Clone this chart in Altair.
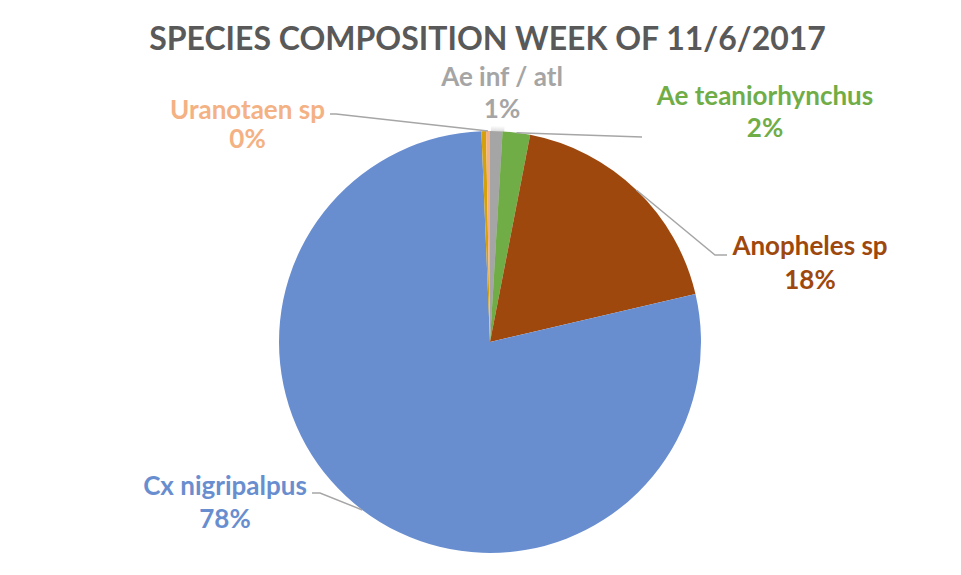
import math
import altair as alt
import pandas as pd

# ---- data ----
species = ["Ae inf / atl", "Ae teaniorhynchus", "Anopheles sp", "Cx nigripalpus", "Other", "Uranotaen sp"]
values = [0.95, 2.1, 18.3, 78.0, 0.35, 0.3]
show_label = [True, True, True, True, False, True]
title_text = "SPECIES COMPOSITION WEEK OF 11/6/2017"

# ---- style / layout ----
slice_colors = ["#A5A5A5", "#70AD47", "#9E480E", "#698ED0", "#D4A00C", "#F4B183"]
W, H = 945, 559
CX, CY, R = 482, 334, 211
FONT = "Lato"
LABEL_SIZE = 26
TITLE_SIZE = 32
LEADER = "#A6A6A6"

# label placement: name centre x, name baseline y, pct baseline y, leader points after the slice anchor
layout = {
    "Uranotaen sp": dict(x=239.5, y=111, y2=140, leader=[(328, 106), (322, 106)]),
    "Ae inf / atl": dict(x=494, y=78, y2=110, leader=[]),
    "Ae teaniorhynchus": dict(x=757, y=97, y2=129, leader=[(634, 129)]),
    "Anopheles sp": dict(x=802, y=247, y2=281, leader=[(707, 247), (719, 247)]),
    "Cx nigripalpus": dict(x=217, y=487, y2=520, leader=[(312, 485), (304, 485)]),
}

total = sum(values)
df = pd.DataFrame({"species": species, "value": values, "idx": list(range(len(species)))})

# mid angles from the data for leader anchors
rows_lbl, rows_line = [], []
cum = 0.0
for s, v, show in zip(species, values, show_label):
    a0 = cum / total * 2 * math.pi
    cum += v
    a1 = cum / total * 2 * math.pi
    if not show:
        continue
    mid = (a0 + a1) / 2
    L = layout[s]
    pct = f"{round(v / total * 100)}%"
    rows_lbl.append({"species": s, "x": L["x"], "y": L["y"], "y2": L["y2"], "pct": pct})
    if L["leader"]:
        pts = [(CX + R * math.sin(mid), CY - R * math.cos(mid))] + L["leader"]
        for k, (px, py) in enumerate(pts):
            rows_line.append({"species": s, "k": k, "x": px, "y": py})

lbl = pd.DataFrame(rows_lbl)
lines = pd.DataFrame(rows_line)

xs = alt.Scale(domain=[0, W], range=[0, W], nice=False, zero=False)
ys = alt.Scale(domain=[0, H], range=[0, H], nice=False, zero=False)
cscale = alt.Scale(domain=species, range=slice_colors)

# soft shadow around the pie (stacked translucent discs)
shadow_df = pd.DataFrame({"v": [1]})
shadows = [
    alt.Chart(shadow_df).mark_arc(outerRadius=R + k, color="#000000", opacity=0.022).encode(
        theta=alt.Theta("v:Q"), x=alt.value(CX + 1), y=alt.value(CY + 1)
    )
    for k in range(1, 7)
]

pie = alt.Chart(df).mark_arc(outerRadius=R).encode(
    theta=alt.Theta("value:Q", stack=True),
    color=alt.Color("species:N", scale=cscale, legend=None),
    order=alt.Order("idx:Q"),
    x=alt.value(CX),
    y=alt.value(CY),
)

leaders = alt.Chart(lines).mark_line(color=LEADER, strokeWidth=1.5).encode(
    x=alt.X("x:Q", scale=xs, axis=None),
    y=alt.Y("y:Q", scale=ys, axis=None),
    detail="species:N",
    order="k:Q",
)

names = alt.Chart(lbl).mark_text(
    font=FONT, fontWeight="bold", fontSize=LABEL_SIZE, align="center", baseline="alphabetic"
).encode(
    x=alt.X("x:Q", scale=xs, axis=None),
    y=alt.Y("y:Q", scale=ys, axis=None),
    text="species:N",
    color=alt.Color("species:N", scale=cscale, legend=None),
)

pcts = alt.Chart(lbl).mark_text(
    font=FONT, fontWeight="bold", fontSize=LABEL_SIZE, align="center", baseline="alphabetic"
).encode(
    x=alt.X("x:Q", scale=xs, axis=None),
    y=alt.Y("y2:Q", scale=ys, axis=None),
    text="pct:N",
    color=alt.Color("species:N", scale=cscale, legend=None),
)

title = alt.Chart(pd.DataFrame({"t": [title_text]})).mark_text(
    font=FONT, fontWeight="bold", fontSize=TITLE_SIZE, align="center", baseline="alphabetic", color="#595959"
).encode(text="t:N", x=alt.value(479.5), y=alt.value(42))

chart = alt.layer(*shadows, pie, leaders, names, pcts, title).properties(
    width=W, height=H, autosize=alt.AutoSizeParams(type="none"), padding=0
).configure_view(strokeWidth=0)

chart.save("out.html", embed_options={"renderer": "svg", "actions": False})
